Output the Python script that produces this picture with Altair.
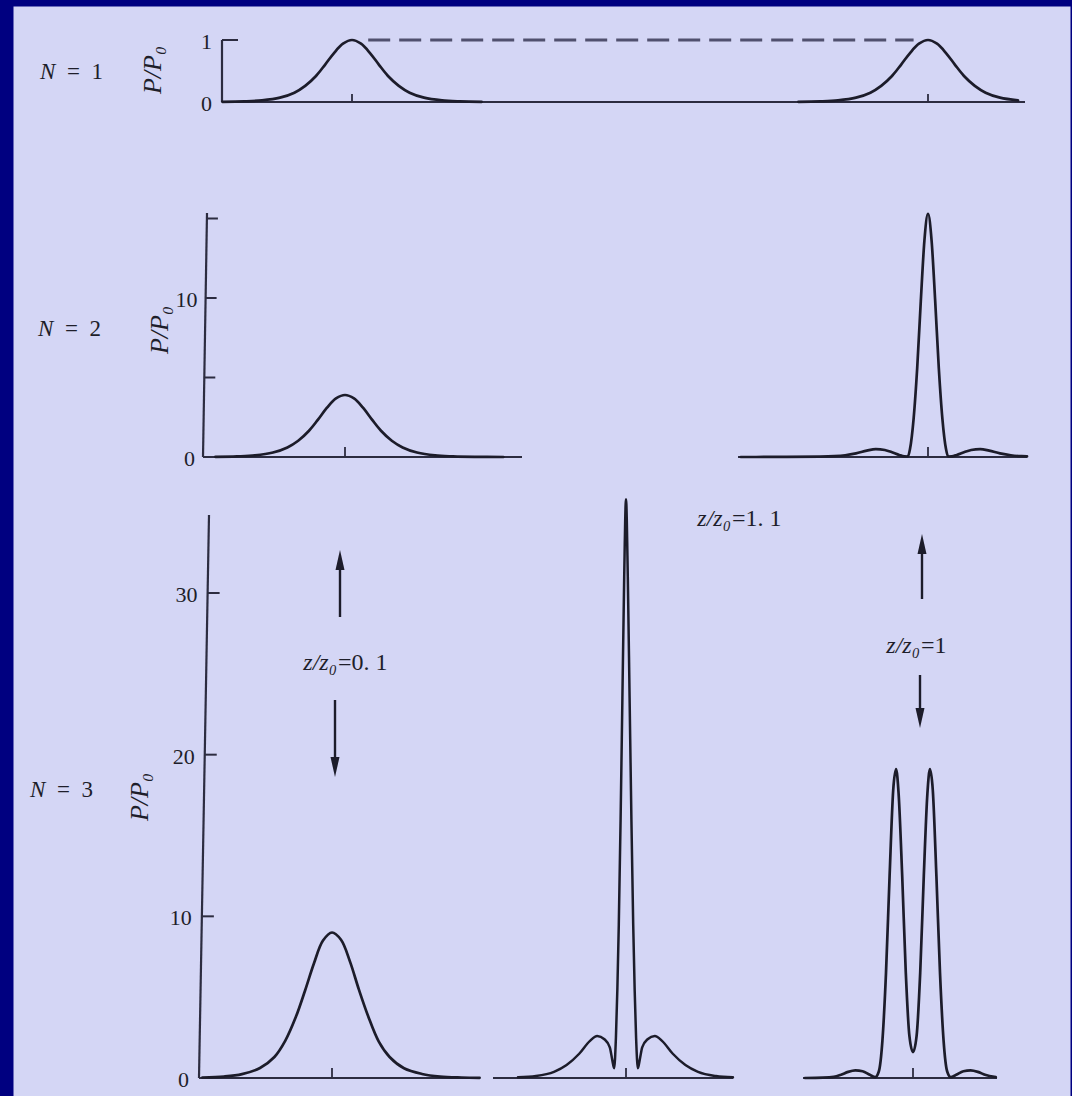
import altair as alt
import pandas as pd

# ---------------- values ----------------
# time in units of the input width T0 (relative to each pulse centre), power as P/P0

# N = 1 : same shape at z = 0 and z = z0
n1_t = [-3.6, -3.0, -2.5, -2.0, -1.6, -1.3, -1.0, -0.75, -0.5, -0.25, 0.0,
        0.25, 0.5, 0.75, 1.0, 1.3, 1.6, 2.0, 2.5, 3.0, 3.6]
n1_p = [0.003, 0.01, 0.026, 0.07, 0.15, 0.26, 0.42, 0.6, 0.79, 0.94, 1.0,
        0.94, 0.79, 0.6, 0.42, 0.26, 0.15, 0.07, 0.026, 0.01, 0.003]
n1_second_centre = 16.0
n1_dash_t = [0.45, 15.6]
n1_dash_p = [1.0, 1.0]
n1_axis_ticks = [1.0]
n1_label_vals = [1.0, 0.0]
n1_label_txt = ["1", "0"]

# N = 2 : z = 0 (left) and maximum compression (right)
n2a_t = [-3.6, -3.0, -2.5, -2.0, -1.6, -1.3, -1.0, -0.75, -0.5, -0.25, 0.0,
         0.25, 0.5, 0.75, 1.0, 1.3, 1.6, 2.0, 2.5, 3.0, 3.6, 4.4]
n2a_p = [0.01, 0.04, 0.1, 0.28, 0.6, 1.02, 1.65, 2.35, 3.1, 3.68, 3.9,
         3.68, 3.1, 2.35, 1.65, 1.02, 0.6, 0.28, 0.1, 0.04, 0.01, 0.0]
n2b_t = [-5.2, -4.0, -3.0, -2.6, -2.3, -2.0, -1.7, -1.45, -1.2, -1.0, -0.8, -0.66, -0.56,
         -0.5, -0.4, -0.3, -0.2, -0.1, 0.0, 0.1, 0.2, 0.3, 0.4, 0.5,
         0.56, 0.66, 0.8, 1.0, 1.2, 1.45, 1.7, 2.0, 2.3, 2.6, 2.75]
n2b_p = [0.0, 0.005, 0.02, 0.05, 0.11, 0.23, 0.4, 0.5, 0.44, 0.3, 0.13, 0.04, 0.03,
         0.5, 2.4, 5.6, 9.8, 13.6, 15.3, 13.6, 9.8, 5.6, 2.4, 0.5,
         0.03, 0.04, 0.13, 0.3, 0.44, 0.5, 0.4, 0.23, 0.11, 0.05, 0.04]
n2_axis_ticks = [5.0, 10.0, 15.0]
n2_label_vals = [10.0, 0.0]
n2_label_txt = ["10", "0"]

# N = 3 : z = 0 (left), narrow spike (middle), split pulse (right)
n3a_t = [-3.6, -3.0, -2.5, -2.0, -1.6, -1.3, -1.0, -0.75, -0.5, -0.25, 0.0,
         0.25, 0.5, 0.75, 1.0, 1.3, 1.6, 2.0, 2.5, 3.0, 3.6, 4.1]
n3a_p = [0.03, 0.09, 0.24, 0.62, 1.3, 2.3, 3.8, 5.4, 7.1, 8.5, 9.0,
         8.55, 7.2, 5.45, 3.85, 2.25, 1.3, 0.6, 0.25, 0.09, 0.03, 0.01]
n3b_t = [-3.7, -3.0, -2.5, -2.0, -1.65, -1.3, -1.0, -0.8, -0.6, -0.45, -0.38, -0.33,
         -0.28, -0.24, -0.2, -0.15, -0.1, -0.05, 0.0, 0.05, 0.1, 0.15, 0.2, 0.24, 0.28,
         0.33, 0.38, 0.45, 0.6, 0.8, 1.0, 1.3, 1.65, 2.0, 2.5, 2.97]
n3b_p = [0.01, 0.04, 0.12, 0.38, 0.8, 1.5, 2.3, 2.6, 2.4, 1.9, 1.1, 0.6,
         2.5, 5.5, 9.5, 16.0, 23.5, 31.0, 35.8, 31.0, 23.5, 16.0, 9.5, 5.5, 2.5,
         0.6, 1.1, 1.9, 2.4, 2.6, 2.3, 1.5, 0.8, 0.38, 0.12, 0.04]
n3c_t = [-3.0, -2.5, -2.2, -2.0, -1.8, -1.6, -1.4, -1.2, -1.05, -0.95, -0.85, -0.75,
         -0.65, -0.55, -0.47, -0.4, -0.3, -0.2, -0.1, 0.0, 0.1, 0.2, 0.3, 0.4, 0.47,
         0.55, 0.65, 0.75, 0.85, 0.95, 1.05, 1.2, 1.4, 1.6, 1.8, 2.0, 2.3]
n3c_p = [0.0, 0.02, 0.07, 0.2, 0.38, 0.47, 0.42, 0.2, 0.05, 0.4, 2.3, 6.5,
         12.5, 17.8, 19.1, 17.6, 12.5, 6.5, 2.6, 1.6, 2.6, 6.5, 12.5, 17.6, 19.1,
         17.8, 12.5, 6.5, 2.3, 0.4, 0.05, 0.2, 0.42, 0.47, 0.38, 0.2, 0.05]
n3_axis_ticks = [10.0, 20.0, 30.0]
n3_label_vals = [30.0, 20.0, 10.0, 0.0]
n3_label_txt = ["30", "20", "10", "0"]

# annotation texts (italic part, upright part)
row_symbol = "N"
row_values = ["=\u20021", "=\u20022", "=\u20023"]
ylabel = "P/P\u2080"
z_symbol = "z/z\u2080"
z_values = ["=0. 1", "=1. 1", "=1"]

# ---------------- layout (figure pixels) and styles ----------------
FIG_W, FIG_H = 1072, 1096
PAD_L, PAD_T, PAD_R = 13, 6, 2
PX = 36.0            # pixels per T0
INK = "#1c1c2a"
AX_INK = "#2c2c40"
TXT = "#1e1e2a"
SERIF = "Liberation Serif"
BG = "#D4D6F5"
NAVY = "#000080"
TICK_FS = 22
ROW_FS = 23
YL_FS = 26
Z_FS = 24


class Panel:
    def __init__(self, x0, x1, xc, y0, ytop, vtop):
        self.xc = xc
        self.tmin, self.tmax = (x0 - xc) / PX, (x1 - xc) / PX
        self.vtop = vtop
        self.unit = (y0 - ytop) / vtop
        self.y0 = y0
        self.xs = alt.Scale(domain=[self.tmin, self.tmax], range=[x0 - PAD_L, x1 - PAD_L],
                            nice=False, zero=False)
        self.ys = alt.Scale(domain=[0, vtop], range=[y0 - PAD_T, ytop - PAD_T],
                            nice=False, zero=False)
        self.layers = []

    def t_of(self, px):
        return (px - self.xc) / PX

    def v_of(self, py):
        return (self.y0 - py) / self.unit

    def X(self, f):
        return alt.X(f"{f}:Q", scale=self.xs, axis=None)

    def Y(self, f):
        return alt.Y(f"{f}:Q", scale=self.ys, axis=None)

    def curve(self, t, p, shift=0.0, width=2.7, interp="monotone"):
        df = pd.DataFrame({"t": [v + shift for v in t], "p": p})
        df = df[(df.t >= self.tmin - 1e-9) & (df.t <= self.tmax + 1e-9)]
        self.layers.append(
            alt.Chart(df).mark_line(interpolate=interp, color=INK, strokeWidth=width,
                                    strokeJoin="round", strokeCap="round")
            .encode(x=self.X("t"), y=self.Y("p")))

    def seg(self, t0, v0, t1, v1, color=AX_INK, width=2.2, dash=None):
        df = pd.DataFrame({"a": [t0], "b": [t1], "c": [v0], "d": [v1]})
        kw = dict(color=color, strokeWidth=width, strokeCap="butt")
        if dash:
            kw["strokeDash"] = dash
        self.layers.append(
            alt.Chart(df).mark_rule(**kw)
            .encode(x=self.X("a"), x2=alt.X2("b"), y=self.Y("c"), y2=alt.Y2("d")))

    def baseline(self):
        self.seg(self.tmin, 0, self.tmax, 0)

    def centre_tick(self, t=0.0, px_len=9):
        self.seg(t, 0, t, px_len / self.unit, width=1.8)

    def yaxis(self, xb, xt, top, ticks, label_vals, label_txt, tick_px=12, label_dx=-9):
        self.seg(self.t_of(xb), 0, self.t_of(xt), top)
        ax = lambda v: xb + (xt - xb) * v / self.vtop
        for v in ticks:
            self.seg(self.t_of(ax(v)), v, self.t_of(ax(v) + tick_px), v, width=2.0)
        df = pd.DataFrame({"t": [self.t_of(ax(v)) for v in label_vals],
                           "v": label_vals, "s": label_txt})
        self.layers.append(
            alt.Chart(df).mark_text(font=SERIF, fontSize=TICK_FS, color=TXT, align="right",
                                    baseline="middle", dx=label_dx, dy=2)
            .encode(x=self.X("t"), y=self.Y("v"), text=alt.Text("s:N")))

    def text(self, px, py, s, size, italic=True, align="center", angle=0):
        df = pd.DataFrame({"t": [self.t_of(px)], "v": [self.v_of(py)], "s": [s]})
        kw = dict(font=SERIF, fontSize=size, color=TXT, align=align, baseline="middle")
        if italic:
            kw["fontStyle"] = "italic"
        if angle:
            kw["angle"] = angle
        self.layers.append(
            alt.Chart(df).mark_text(**kw)
            .encode(x=self.X("t"), y=self.Y("v"), text=alt.Text("s:N")))

    def two_part(self, px_split, py, italic_part, upright_part, size, gap=1):
        self.text(px_split, py, italic_part, size, italic=True, align="right")
        self.text(px_split + gap, py, upright_part, size, italic=False, align="left")

    def arrow(self, px, py_tail, py_tip, head_px=20):
        t = self.t_of(px)
        v_tail, v_tip = self.v_of(py_tail), self.v_of(py_tip)
        up = v_tip > v_tail
        head = head_px / self.unit
        v_base = v_tip - head if up else v_tip + head
        v_mid = v_tip - head / 2 if up else v_tip + head / 2
        self.seg(t, v_tail, t, v_base, color=INK, width=2.4)
        shape = "M0,-1L0.45,1L-0.45,1Z" if up else "M0,1L0.45,-1L-0.45,-1Z"
        df = pd.DataFrame({"t": [t], "v": [v_mid]})
        self.layers.append(
            alt.Chart(df).mark_point(shape=shape, filled=True, size=head_px * head_px,
                                     color=INK, opacity=1, strokeWidth=0)
            .encode(x=self.X("t"), y=self.Y("v")))

    def chart(self):
        return alt.layer(*self.layers)


panels = []

# ---- row N = 1 ----
r1 = Panel(222, 1025, 352, 102, 40, 1.0)
r1.baseline()
r1.yaxis(222, 222, 1.0, n1_axis_ticks, n1_label_vals, n1_label_txt, tick_px=16, label_dx=-10)
r1.centre_tick(0.0, 8)
r1.centre_tick(n1_second_centre, 8)
r1.seg(n1_dash_t[0], n1_dash_p[0], n1_dash_t[1], n1_dash_p[1], color="#50506e", width=3,
       dash=[22, 9])
r1.curve(n1_t, n1_p, interp="catmull-rom")
r1.curve(n1_t, n1_p, shift=n1_second_centre, interp="catmull-rom")
r1.text(40, 72, row_symbol, ROW_FS, align="left")
r1.text(67, 72, row_values[0], ROW_FS, italic=False, align="left")
r1.text(153, 70, ylabel, YL_FS, angle=270)
panels.append(r1)

# ---- row N = 2 ----
U2 = (457 - 298) / 10.0
V2 = (457 - 213) / U2
r2a = Panel(203, 522, 345, 457, 213, V2)
r2a.baseline()
r2a.yaxis(203, 207, V2, n2_axis_ticks, n2_label_vals, n2_label_txt, tick_px=11, label_dx=-8)
r2a.centre_tick(0.0, 10)
r2a.curve(n2a_t, n2a_p, interp="catmull-rom")
r2a.text(38, 329, row_symbol, ROW_FS, align="left")
r2a.text(65, 329, row_values[1], ROW_FS, italic=False, align="left")
r2a.text(160, 330, ylabel, YL_FS, angle=270)
panels.append(r2a)

r2b = Panel(738, 1027, 928, 457, 213, V2)
r2b.baseline()
r2b.centre_tick(0.0, 10)
r2b.curve(n2b_t, n2b_p)
panels.append(r2b)

# ---- row N = 3 ----
U3 = (1078 - 593) / 30.0
V3 = (1078 - 515) / U3
r3a = Panel(199, 480, 332, 1078, 515, V3)
r3a.baseline()
r3a.yaxis(199, 209, V3, n3_axis_ticks, n3_label_vals, n3_label_txt, tick_px=12, label_dx=-10)
r3a.centre_tick(0.0, 10)
r3a.curve(n3a_t, n3a_p, interp="catmull-rom")
r3a.text(30, 790, row_symbol, ROW_FS, align="left")
r3a.text(57, 790, row_values[2], ROW_FS, italic=False, align="left")
r3a.text(140, 797, ylabel, YL_FS, angle=270)
r3a.arrow(340, 617, 550)
r3a.two_part(337, 663, z_symbol, z_values[0], Z_FS)
r3a.arrow(335, 700, 777)
panels.append(r3a)

r3b = Panel(493, 733, 626, 1078, 515, V3)
r3b.baseline()
r3b.centre_tick(0.0, 10)
r3b.curve(n3b_t, n3b_p, width=2.5)
r3b.two_part(731, 519, z_symbol, z_values[1], Z_FS)
panels.append(r3b)

r3c = Panel(803, 997, 913, 1078, 515, V3)
r3c.baseline()
r3c.centre_tick(0.0, 10)
r3c.curve(n3c_t, n3c_p)
r3c.arrow(922, 599, 534)
r3c.two_part(920, 646, z_symbol, z_values[2], Z_FS)
r3c.arrow(920, 675, 728)
panels.append(r3c)

chart = (
    alt.layer(*[p.chart() for p in panels])
    .resolve_scale(x="independent", y="independent")
    .properties(
        width=FIG_W - PAD_L - PAD_R,
        height=FIG_H - PAD_T,
        background=NAVY,
        padding={"left": PAD_L, "top": PAD_T, "right": PAD_R, "bottom": 0},
        autosize=alt.AutoSizeParams(type="none"),
    )
    .configure_view(fill=BG, stroke="transparent")
)

chart.save("out.html", embed_options={"renderer": "svg", "actions": False})
